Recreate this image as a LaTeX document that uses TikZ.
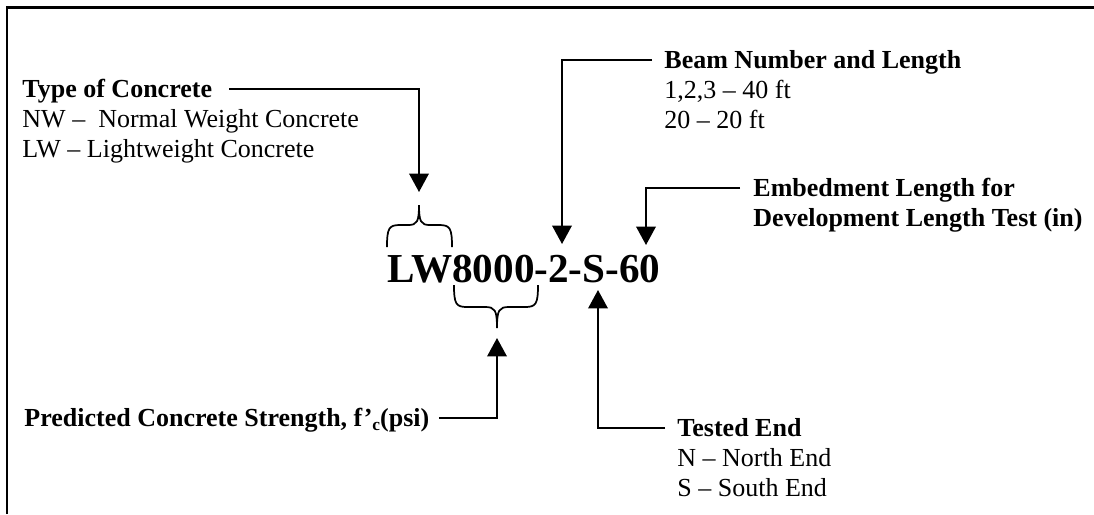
\documentclass[tikz,border=0pt]{standalone}
\usepackage{fontspec}
\setmainfont{Liberation Serif}
\usetikzlibrary{arrows.meta}
\tikzset{lblhead/.style = {font=\fontsize{12}{14}\selectfont\bfseries, inner sep=0,
                           text height=9.4pt, text depth=2pt, anchor=base west}}
\tikzset{lblitem/.style = {font=\fontsize{12}{14}\selectfont, inner sep=0, anchor=base west}}
\tikzset{bigcode/.style = {font=\fontsize{19}{22}\selectfont\bfseries, inner sep=0, anchor=base west}}
\tikzset{conn/.style = {line width=0.9pt, -{Triangle[width=9pt,length=8.5pt]}}}
\tikzset{brc/.style = {line width=0.8pt}}

\begin{document}
\begin{tikzpicture}[x=0.4615pt, y=-0.4615pt]
      \useasboundingbox (0,0) rectangle (1094,514);
      \draw[line width=1.3pt] (7,514) -- (7,7.5) -- (1094,7.5);

      \node[bigcode] (code) at (387,282) {LW8000-2-S-60};

      % arrow tips at the code
      \coordinate (tipA) at (419,192);
      \coordinate (tipB) at (562,244);
      \coordinate (tipC) at (646,245);
      \coordinate (tipD) at (497,338);
      \coordinate (tipE) at (598,290);

      % braces
      \draw[brc] (387,247) .. controls (387,228) and (389,225) .. (400,225) -- (408,225)
                 .. controls (417,225) and (419,222) .. (419,205)
                 .. controls (419,222) and (421,225) .. (430,225) -- (439,225)
                 .. controls (450,225) and (452,228) .. (452,247);
      \draw[brc] (454,285) .. controls (454,304) and (456,307) .. (467,307) -- (485,307)
                 .. controls (495,307) and (497,310) .. (497,328)
                 .. controls (497,310) and (499,307) .. (509,307) -- (525,307)
                 .. controls (536,307) and (538,304) .. (538,285);

      \node[lblhead] (type) at (22,97) {Type of Concrete};
      \node[lblitem] (nw) at (22,127) {NW –\ \ Normal Weight Concrete};
      \node[lblitem] (lw) at (22,157) {LW – Lightweight Concrete};
      \draw[conn] ([xshift=7.8pt]type.east) -| (tipA);

      \node[lblhead] (beam) at (664,68) {Beam Number and Length};
      \node[lblitem] (b1) at (664,98) {1,2,3 – 40 ft};
      \node[lblitem] (b2) at (664,128) {20 – 20 ft};
      \draw[conn] ([xshift=-5.5pt]beam.west) -| (tipB);

      \node[lblhead] (embed) at (753,196) {Embedment Length for};
      \node[lblhead] (devel) at (753,226) {Development Length Test (in)};
      \draw[conn] ([xshift=-6pt]embed.west) -| (tipC);

      \node[lblhead] (pred) at (24,426)
            {Predicted Concrete Strength, f’\raisebox{-2.2pt}{\fontsize{8}{9}\selectfont c}(psi)};
      \draw[conn] ([xshift=4.2pt]pred.east) -| (tipD);

      \node[lblhead] (tested) at (677,436) {Tested End};
      \node[lblitem] (north) at (677,466) {N – North End};
      \node[lblitem] (south) at (677,496) {S – South End};
      \draw[conn] ([xshift=-5.5pt]tested.west) -| (tipE);
\end{tikzpicture}
\end{document}
